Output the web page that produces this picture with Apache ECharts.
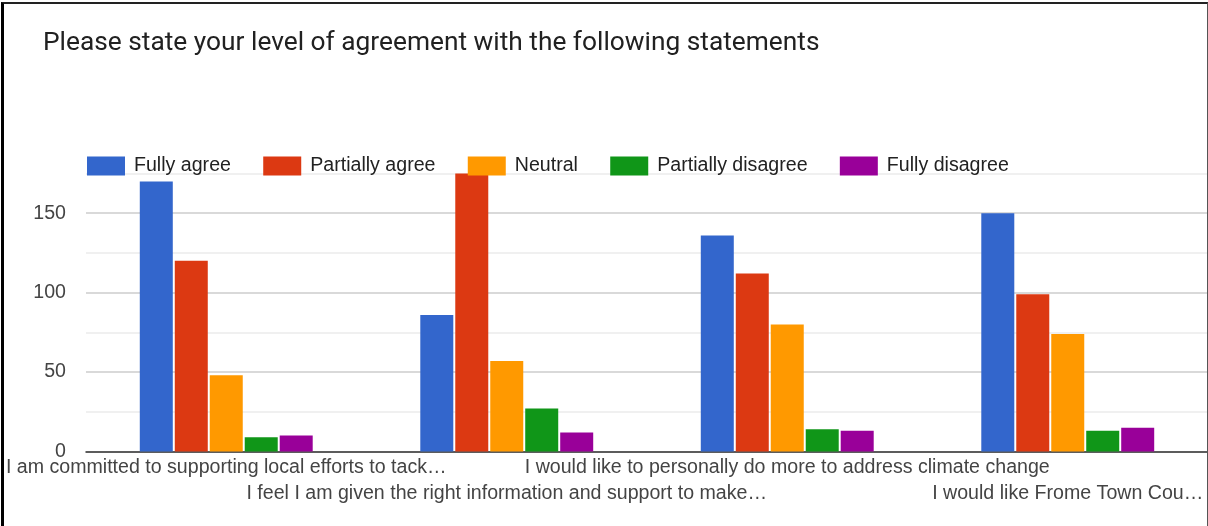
<!DOCTYPE html>
<html>
<head>
<meta charset="utf-8">
<title>Level of agreement</title>
<script src="https://cdn.jsdelivr.net/npm/echarts@6/dist/echarts.min.js"></script>
<style>
    html, body { margin: 0; padding: 0; background: #fff; }
    #wrap { position: relative; width: 1208px; height: 526px; overflow: hidden; }
    #main { width: 1208px; height: 526px; }
    #frame {
        position: absolute; left: 1px; top: 2px; width: 1203px; height: 530px;
        border-left: 3px solid #000; border-top: 2px solid #222; border-right: 1px solid #555;
        pointer-events: none;
    }
</style>
</head>
<body>
<div id="wrap">
    <div id="main"></div>
    <div id="frame"></div>
</div>
<script>
// 题目（横轴类别，截断后的文字）
var categories = [
    'I am committed to supporting local efforts to tack…',
    'I feel I am given the right information and support to make…',
    'I would like to personally do more to address climate change',
    'I would like Frome Town Cou…'
];
var seriesNames = ['Fully agree', 'Partially agree', 'Neutral', 'Partially disagree', 'Fully disagree'];
var colors = ['#3366cc', '#dc3912', '#ff9900', '#109618', '#990099'];

// 每个选项的人数
var fullyAgree = [170, 86, 136, 150];
var partiallyAgree = [120, 175, 112, 99];
var neutral = [48, 57, 80, 74];
var partiallyDisagree = [9, 27, 14, 13];
var fullyDisagree = [10, 12, 13, 15];

var yTicks = [0, 50, 100, 150];

var values = [fullyAgree, partiallyAgree, neutral, partiallyDisagree, fullyDisagree];
var font = '"Liberation Sans", Arial, sans-serif';

var myChart = echarts.init(document.getElementById('main'));

var series = [];
for (var i = 0; i < seriesNames.length; i++) {
    series.push({
        name: seriesNames[i],
        type: 'bar',
        data: values[i],
        barWidth: 33,
        barGap: '6%',
        itemStyle: { color: colors[i] }
    });
}

var option = {
    animation: false,
    title: {
        text: 'Please state your level of agreement with the following statements',
        left: 38,
        top: 22,
        textStyle: {
            fontFamily: 'Roboto, sans-serif',
            fontWeight: 'normal',
            fontSize: 26.3,
            lineHeight: 32,
            color: '#212121'
        }
    },
    legend: {
        data: seriesNames,
        left: 82,
        top: 151,
        icon: 'rect',
        itemWidth: 38,
        itemHeight: 19,
        itemGap: 32.3,
        textStyle: {
            fontFamily: font,
            fontSize: 19.6,
            color: '#222',
            padding: [3, 0, 0, 4]
        }
    },
    grid: {
        left: 86,
        width: 1122,
        top: 173.5,
        bottom: 74.5
    },
    xAxis: {
        type: 'category',
        data: categories,
        axisTick: { show: false },
        axisLine: { lineStyle: { color: '#333', width: 1.5 } },
        axisLabel: {
            interval: 0,
            margin: 3,
            fontFamily: font,
            fontSize: 19.6,
            lineHeight: 26,
            color: '#444',
            formatter: function (v, idx) {
                return idx % 2 ? '\n' + v : v;
            }
        }
    },
    yAxis: {
        type: 'value',
        min: 0,
        max: 175,
        interval: 25,
        axisLine: { show: false },
        axisTick: { show: false },
        splitLine: { lineStyle: { color: ['#ccc', '#ebebeb'], width: 1.5 } },
        axisLabel: {
            margin: 20,
            fontFamily: font,
            fontSize: 19.6,
            color: '#444',
            formatter: function (v) {
                return yTicks.indexOf(v) >= 0 ? String(v) : '';
            }
        }
    },
    series: series
};

myChart.setOption(option);
</script>
</body>
</html>
